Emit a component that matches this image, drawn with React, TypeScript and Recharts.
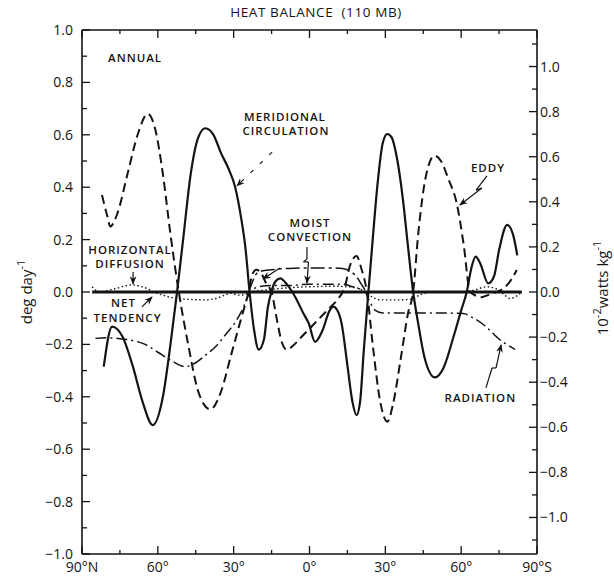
import React from "react";
import { LineChart, Line, XAxis, YAxis, ReferenceLine, ReferenceDot, Label } from "recharts";

// Latitude in degrees (north positive), values in deg day^-1

const meridionalLat = [81.4, 78.1, 74, 70, 66, 62, 58, 55, 52.4, 50, 47, 44, 41.2, 38, 35, 32, 29.4, 27, 25.4, 23.7, 22, 20.1, 18, 16.5, 15.1, 13.5, 11.6, 9, 5.6, 2.5, 0.3, -2.2, -5, -8, -9.4, -11, -12.7, -15, -17, -18.6, -20, -21.5, -23.3, -25, -27, -29, -30.8, -32.5, -34.5, -37, -39, -41, -43, -45.5, -49.6, -53, -57, -60, -62.2, -64, -65.7, -67.5, -70.7, -73, -75, -78.2, -80.5, -82.2];
const meridionalVal = [-0.285, -0.132, -0.17, -0.28, -0.42, -0.508, -0.4, -0.2, 0, 0.2, 0.45, 0.59, 0.625, 0.6, 0.53, 0.47, 0.4, 0.28, 0.173, 0, -0.14, -0.22, -0.18, -0.06, 0, 0.04, 0.052, 0.03, -0.02, -0.08, -0.12, -0.19, -0.15, -0.07, -0.056, -0.07, -0.12, -0.28, -0.42, -0.47, -0.42, -0.22, 0, 0.2, 0.42, 0.57, 0.603, 0.59, 0.516, 0.35, 0.17, 0, -0.12, -0.25, -0.326, -0.29, -0.17, -0.07, 0, 0.09, 0.135, 0.11, 0.033, 0.06, 0.16, 0.256, 0.22, 0.14];

const eddyLat = [82.1, 80, 78.8, 76, 72, 68, 64, 61, 58, 55, 51.7, 48, 44, 39.2, 35, 31, 27, 24.1, 22.5, 21, 19, 17, 15, 13, 11, 9, 6, 3, 0, -4, -8, -11, -14, -16, -18.6, -20.5, -22.7, -25, -28, -30.8, -33, -36, -39, -41, -43, -46, -49.4, -52, -55, -58.2, -61, -63.5, -65, -68, -71, -74, -77.5, -80, -82];
const eddyVal = [0.37, 0.29, 0.25, 0.3, 0.45, 0.6, 0.68, 0.62, 0.45, 0.22, 0, -0.2, -0.38, -0.448, -0.38, -0.24, -0.1, 0, 0.07, 0.085, 0.07, 0.03, 0, -0.1, -0.19, -0.22, -0.2, -0.17, -0.14, -0.1, -0.06, -0.03, 0.02, 0.1, 0.137, 0.09, 0, -0.2, -0.42, -0.495, -0.43, -0.26, -0.08, 0, 0.22, 0.44, 0.52, 0.5, 0.43, 0.34, 0.18, 0, -0.01, -0.02, -0.01, 0, 0.02, 0.05, 0.084];

const radiationLat = [84.7, 80, 75, 70.2, 65, 60, 55, 49.1, 45, 41, 37.3, 33, 29, 26.7, 23.4, 20, 15, 8, 0, -8, -13, -17, -22, -24, -26, -29, -40, -50, -60.8, -64, -69, -75.4, -78, -81.3];
const radiationVal = [-0.177, -0.175, -0.178, -0.185, -0.2, -0.23, -0.26, -0.285, -0.27, -0.24, -0.21, -0.16, -0.11, -0.07, 0, 0.02, 0.025, 0.025, 0.03, 0.03, 0.03, 0.02, 0, -0.04, -0.07, -0.08, -0.08, -0.08, -0.082, -0.095, -0.126, -0.183, -0.2, -0.219];

const moistLat = [24, 22.5, 21, 19, 15, 8, 0, -8, -13, -16, -18.5, -20.5, -22.5];
const moistVal = [0, 0.04, 0.07, 0.08, 0.085, 0.09, 0.092, 0.092, 0.09, 0.08, 0.06, 0.03, 0];

const diffusionLat = [86, 83, 80, 76, 72, 70, 67, 64, 61.6, 58, 54, 48, 42, 37, 33, 31, 28, 25.5, 23.4, 20, 15, 10, 0, -10, -15, -19, -22, -25, -28, -35, -40, -44, -48, -55, -62, -66, -70, -74, -77, -79.4, -82, -84];
const diffusionVal = [0.02, 0, 0.005, 0.015, 0.025, 0.027, 0.022, 0.012, 0, -0.012, -0.022, -0.028, -0.03, -0.025, -0.01, -0.005, -0.012, -0.01, 0, 0.005, 0.01, 0.015, 0.02, 0.022, 0.02, 0.015, 0, -0.02, -0.03, -0.03, -0.028, -0.01, 0, 0, 0, 0.01, 0.02, 0.012, -0.01, -0.025, -0.015, 0];

const netLat = [86, 60, 30, 0, -30, -60, -84];
const netVal = [0, 0, 0, 0, 0, 0, 0];

const latTicks = [90, 75, 60, 45, 30, 15, 0, -15, -30, -45, -60, -75, -90];
const leftTicks = [-1.0, -0.9, -0.8, -0.7, -0.6, -0.5, -0.4, -0.3, -0.2, -0.1, 0, 0.1, 0.2, 0.3, 0.4, 0.5, 0.6, 0.7, 0.8, 0.9, 1.0];
const rightTicks = [-1.1, -1.0, -0.9, -0.8, -0.7, -0.6, -0.5, -0.4, -0.3, -0.2, -0.1, 0, 0.1, 0.2, 0.3, 0.4, 0.5, 0.6, 0.7, 0.8, 0.9, 1.0, 1.1];

// 1 deg day^-1 = cp / 86400 s = 1.162e-2 W kg^-1
const rightLimit = 1.162;

const toPoints = (lats: number[], vals: number[]) => lats.map((lat, i) => ({ lat, v: vals[i] }));

const ink = "#141414";
const font = "'Open Sans', 'DejaVu Sans', sans-serif";

const isEvenTenth = (v: number) => Math.round(v * 10) % 2 === 0;
const fmtTenth = (v: number) => (v < -1e-9 ? "\u2212" : "") + Math.abs(v).toFixed(1);
const fmtLat = (v: number) => (v === 90 ? "90°N" : v === -90 ? "90°S" : `${Math.abs(v)}°`);

function LeftTick({ x, y, payload }: any) {
  const major = isEvenTenth(payload.value);
  return (
    <g>
      <line x1={x} x2={x + (major ? 8 : 5)} y1={y} y2={y} stroke={ink} strokeWidth={1.3} />
      {major && (
        <text x={x - 9} y={y + 5} textAnchor="end" fontSize={14} fontFamily={font} fill={ink}>
          {fmtTenth(payload.value)}
        </text>
      )}
    </g>
  );
}

function RightTick({ x, y, payload }: any) {
  const major = isEvenTenth(payload.value);
  return (
    <g>
      <line x1={x} x2={x - (major ? 8 : 5)} y1={y} y2={y} stroke={ink} strokeWidth={1.3} />
      {major && (
        <text x={x + 3} y={y + 5} textAnchor="start" fontSize={14} fontFamily={font} fill={ink}>
          {fmtTenth(payload.value)}
        </text>
      )}
    </g>
  );
}

function BottomTick({ x, y, payload }: any) {
  const major = payload.value % 30 === 0;
  return (
    <g>
      <line x1={x} x2={x} y1={y} y2={y - (major ? 8 : 4)} stroke={ink} strokeWidth={1.3} />
      {major && (
        <text x={x} y={y + 18} textAnchor="middle" fontSize={14} fontFamily={font} fill={ink}>
          {fmtLat(payload.value)}
        </text>
      )}
    </g>
  );
}

function TopTick({ x, y, payload }: any) {
  const major = payload.value % 30 === 0;
  return <line x1={x} x2={x} y1={y} y2={y + (major ? 8 : 4)} stroke={ink} strokeWidth={1.3} />;
}

// text placed at a data position
function note(key: string, lat: number, v: number, text: string, anchor = "middle") {
  return (
    <ReferenceDot
      key={key}
      x={lat}
      y={v}
      r={0}
      shape={(p: any) => (
        <text
          x={p.cx}
          y={p.cy}
          textAnchor={anchor}
          fontSize={11.5}
          fontWeight={600}
          letterSpacing={1}
          fontFamily={font}
          fill={ink}
        >
          {text}
        </text>
      )}
    />
  );
}

// pointer segment between two data positions, optionally with an arrowhead
function pointer(key: string, a: [number, number], b: [number, number], head = false, dash?: string) {
  return (
    <ReferenceLine
      key={key}
      segment={[{ x: a[0], y: a[1] }, { x: b[0], y: b[1] }]}
      shape={(p: any) => (
        <line
          x1={p.x1}
          y1={p.y1}
          x2={p.x2}
          y2={p.y2}
          stroke={ink}
          strokeWidth={1.2}
          strokeDasharray={dash}
          markerEnd={head ? "url(#tip)" : undefined}
        />
      )}
    />
  );
}

export default function App() {
  return (
    <div style={{ position: "absolute", left: 0, top: 0, width: 614, height: 577, background: "#fff" }}>
      <div
        style={{
          position: "absolute",
          left: 0,
          width: 632,
          top: 3,
          textAlign: "center",
          fontFamily: font,
          fontSize: 13.5,
          fontWeight: 500,
          letterSpacing: 0.6,
          color: ink,
        }}
      >
        HEAT BALANCE&nbsp;&nbsp;(110 MB)
      </div>
      <LineChart width={614} height={577} margin={{ top: 0, right: 0, bottom: 0, left: 0 }}>
        <defs>
          <marker id="tip" viewBox="0 0 10 10" refX="9" refY="5" markerWidth="7" markerHeight="7" orient="auto">
            <path d="M0,1 L10,5 L0,9 L3,5 Z" fill={ink} />
          </marker>
        </defs>
        <XAxis
          xAxisId={0}
          dataKey="lat"
          type="number"
          domain={[-90, 90]}
          reversed
          ticks={latTicks}
          height={23}
          tickSize={0}
          tickMargin={0}
          tickLine={false}
          tick={<BottomTick />}
          interval={0}
          axisLine={{ stroke: ink, strokeWidth: 1.6 }}
          allowDataOverflow
        />
        <XAxis
          xAxisId="top"
          orientation="top"
          dataKey="lat"
          type="number"
          domain={[-90, 90]}
          reversed
          ticks={latTicks}
          height={30}
          tickSize={0}
          tickMargin={0}
          tickLine={false}
          tick={<TopTick />}
          interval={0}
          axisLine={{ stroke: ink, strokeWidth: 1.6 }}
          allowDataOverflow
        />
        <YAxis
          yAxisId={0}
          type="number"
          domain={[-1, 1]}
          ticks={leftTicks}
          width={82}
          tickSize={0}
          tickMargin={0}
          tickLine={false}
          tick={<LeftTick />}
          interval={0}
          axisLine={{ stroke: ink, strokeWidth: 1.6 }}
          allowDataOverflow
        >
          <Label
            content={({ viewBox }: any) => (
              <text
                transform={`translate(${viewBox.x + 32}, ${viewBox.y + viewBox.height / 2}) rotate(-90)`}
                textAnchor="middle"
                fontSize={15}
                fontFamily={font}
                fill={ink}
              >
                deg day
                <tspan dy={-7} fontSize={11}>
                  -1
                </tspan>
              </text>
            )}
          />
        </YAxis>
        <YAxis
          yAxisId="right"
          orientation="right"
          type="number"
          domain={[-rightLimit, rightLimit]}
          ticks={rightTicks}
          width={77}
          tickSize={0}
          tickMargin={0}
          tickLine={false}
          tick={<RightTick />}
          interval={0}
          axisLine={{ stroke: ink, strokeWidth: 1.6 }}
          allowDataOverflow
        >
          <Label
            content={({ viewBox }: any) => (
              <text
                transform={`translate(${viewBox.x + 71}, ${viewBox.y + viewBox.height / 2 - 4}) rotate(-90)`}
                textAnchor="middle"
                fontSize={15}
                fontFamily={font}
                fill={ink}
              >
                10
                <tspan dy={-7} fontSize={11}>
                  -2
                </tspan>
                <tspan dy={7}>watts kg</tspan>
                <tspan dy={-7} fontSize={11}>
                  -1
                </tspan>
              </text>
            )}
          />
        </YAxis>

        <Line data={toPoints(netLat, netVal)} dataKey="v" type="linear" stroke={ink} strokeWidth={3} dot={false} activeDot={false} isAnimationActive={false} />
        <Line data={toPoints(diffusionLat, diffusionVal)} dataKey="v" type="monotone" stroke={ink} strokeWidth={1.4} strokeDasharray="1.5 2.5" dot={false} activeDot={false} isAnimationActive={false} />
        <Line data={toPoints(radiationLat, radiationVal)} dataKey="v" type="monotone" stroke={ink} strokeWidth={1.5} strokeDasharray="11 4 2 4" dot={false} activeDot={false} isAnimationActive={false} />
        <Line data={toPoints(moistLat, moistVal)} dataKey="v" type="monotone" stroke={ink} strokeWidth={1.5} strokeDasharray="14 4 3 4" dot={false} activeDot={false} isAnimationActive={false} />
        <Line data={toPoints(eddyLat, eddyVal)} dataKey="v" type="monotone" stroke={ink} strokeWidth={2} strokeDasharray="9 5" dot={false} activeDot={false} isAnimationActive={false} />
        <Line data={toPoints(meridionalLat, meridionalVal)} dataKey="v" type="monotone" stroke={ink} strokeWidth={2.2} dot={false} activeDot={false} isAnimationActive={false} />

        {note("annual", 79.7, 0.878, "ANNUAL", "start")}
        {note("mer1", 9.7, 0.652, "MERIDIONAL")}
        {note("mer2", 9.3, 0.599, "CIRCULATION")}
        {pointer("merArrow", [14.8, 0.534], [28.7, 0.405], true, "4 9")}
        {note("eddy", -70.6, 0.458, "EDDY")}
        {pointer("eddy1", [-70.2, 0.443], [-65.9, 0.389])}
        {pointer("eddy2", [-65.9, 0.389], [-68.2, 0.397])}
        {pointer("eddy3", [-68.2, 0.397], [-59.5, 0.332], true)}
        {note("moist1", -0.2, 0.248, "MOIST")}
        {note("moist2", -0.2, 0.195, "CONVECTION")}
        {pointer("moistA1", [1.0, 0.172], [1.0, 0.126])}
        {pointer("moistA2", [1.0, 0.126], [2.4, 0.115])}
        {pointer("moistA3", [2.4, 0.115], [0.4, 0.115])}
        {pointer("moistA4", [0.4, 0.115], [1.0, 0.034], true)}
        {pointer("moistB", [11.7, 0.092], [18.4, 0.05], true)}
        {note("hd1", 71.0, 0.145, "HORIZONTAL")}
        {note("hd2", 71.0, 0.092, "DIFFUSION")}
        {pointer("hdArrow", [69.8, 0.076], [69.8, 0.031], true)}
        {note("net1", 73.6, -0.058, "NET")}
        {note("net2", 72.0, -0.115, "TENDENCY")}
        {pointer("netArrow", [66.3, -0.057], [62.3, -0.019], true)}
        {note("rad", -67.6, -0.419, "RADIATION")}
        {pointer("rad1", [-69.8, -0.366], [-72.2, -0.29])}
        {pointer("rad2", [-72.2, -0.29], [-73.8, -0.29])}
        {pointer("rad3", [-73.8, -0.29], [-75.8, -0.202], true)}
      </LineChart>
    </div>
  );
}
